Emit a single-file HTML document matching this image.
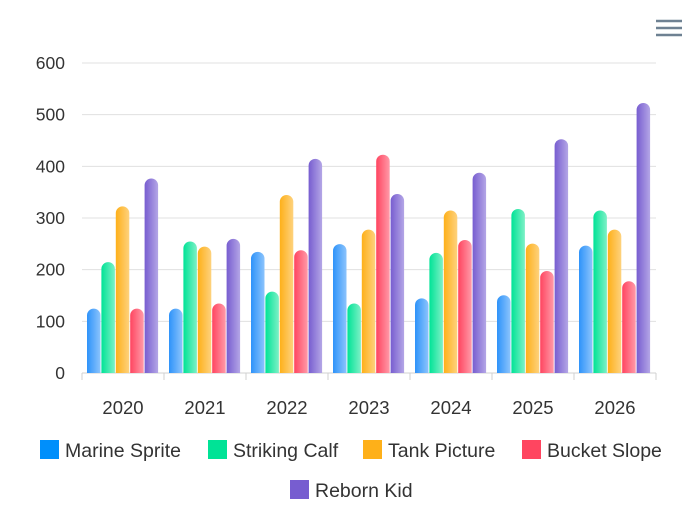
<!DOCTYPE html>
<html><head><meta charset="utf-8"><style>
html,body{margin:0;padding:0;background:#fff;}
svg{display:block;font-family:"Liberation Sans",sans-serif;}
</style></head><body>
<svg id="c" width="700" height="512" viewBox="0 0 700 512" xmlns="http://www.w3.org/2000/svg">
<defs>
<linearGradient id="g0" x1="0" x2="1"><stop offset="0" stop-color="#2E93FA"/><stop offset="1" stop-color="#8cc4fc"/></linearGradient>
<linearGradient id="g1" x1="0" x2="1"><stop offset="0" stop-color="#00E396"/><stop offset="1" stop-color="#7df0c6"/></linearGradient>
<linearGradient id="g2" x1="0" x2="1"><stop offset="0" stop-color="#FEB019"/><stop offset="1" stop-color="#fed27e"/></linearGradient>
<linearGradient id="g3" x1="0" x2="1"><stop offset="0" stop-color="#FF4560"/><stop offset="1" stop-color="#ff9aa8"/></linearGradient>
<linearGradient id="g4" x1="0" x2="1"><stop offset="0" stop-color="#775DD0"/><stop offset="1" stop-color="#b4a6e6"/></linearGradient>
</defs>
<g stroke="#6E8192" stroke-width="2.5"><line x1="656" y1="21" x2="682" y2="21"/><line x1="656" y1="28" x2="682" y2="28"/><line x1="656" y1="35" x2="682" y2="35"/></g>
<g id="grid"></g>
<g id="bars"></g>
<g id="leg"></g>
</svg>
<script>
var ns="http://www.w3.org/2000/svg";
function el(p,t,a,txt){var e=document.createElementNS(ns,t);for(var k in a)e.setAttribute(k,a[k]);if(txt)e.textContent=txt;document.getElementById(p).appendChild(e);}
var y0=373,sc=310/600;
for(var i=0;i<=6;i++){var y=y0-i*100*sc;
 el("grid","line",{x1:82,x2:656,y1:y,y2:y,stroke:i?"#e0e0e0":"#d0d0d0","stroke-width":1});
 el("grid","text",{x:65,y:y+6,"text-anchor":"end","font-size":17.5,fill:"#333"},String(i*100));}
for(var j=0;j<=7;j++){var x=82+j*82;el("grid","line",{x1:x,x2:x,y1:373,y2:380,stroke:"#d0d0d0"});}
var d=[[125,215,323,125,377],[125,255,245,135,260],[235,158,345,238,415],[250,135,278,423,347],[145,233,315,258,388],[151,318,251,198,453],[247,315,278,178,523]];
var yrs=[2020,2021,2022,2023,2024,2025,2026];
for(var g=0;g<7;g++){var gx=82+g*82;
 el("grid","text",{x:gx+41,y:414,"text-anchor":"middle","font-size":18.5,fill:"#333"},String(yrs[g]));
 for(var s=0;s<5;s++){var h=d[g][s]*sc,x=gx+5+s*14.4;
  el("bars","path",{d:"M"+x+" "+y0+"V"+(y0-h+7)+"a6.75 6.75 0 0 1 13.5 0V"+y0+"Z",fill:"url(#g"+s+")"});}}
var L=[["Marine Sprite","#008FFB",40,450],["Striking Calf","#00E396",208,450],["Tank Picture","#FEB019",363,450],["Bucket Slope","#FF4560",522,450],["Reborn Kid","#775DD0",290,490]];
L.forEach(function(l){el("leg","rect",{x:l[2],y:l[3]-10,width:19,height:19,fill:l[1]});
 el("leg","text",{x:l[2]+25,y:l[3]+7,"font-size":19.5,fill:"#333"},l[0]);});
</script>
</body></html>
